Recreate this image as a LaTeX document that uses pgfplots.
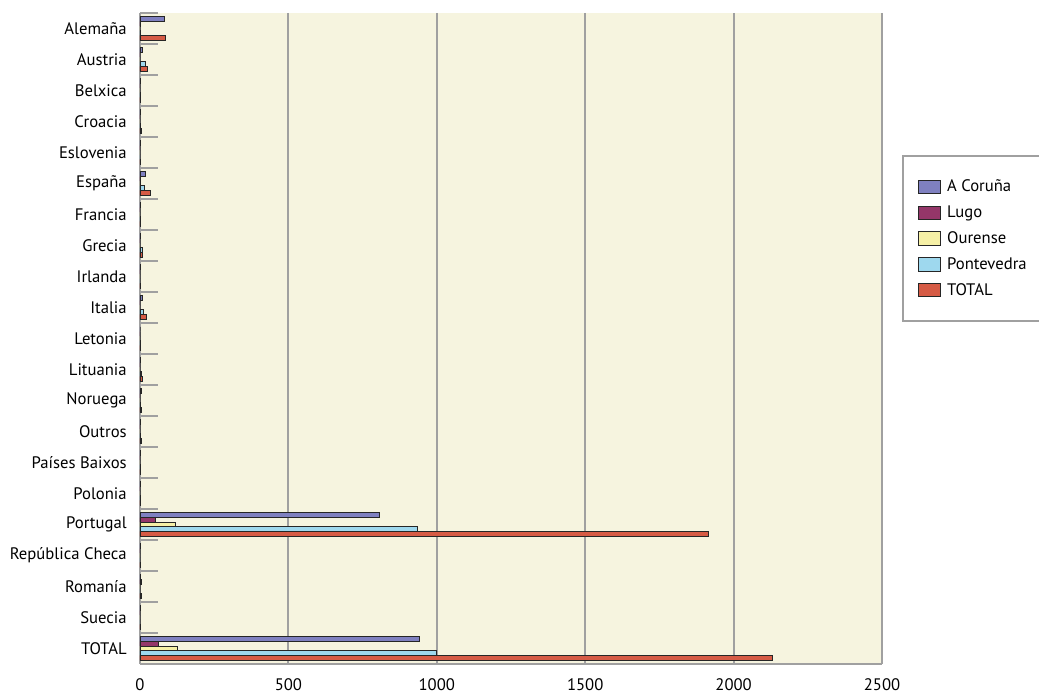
\documentclass[border=0pt]{standalone}
\usepackage{fontspec}
\setmainfont{PT Sans}
\usepackage{pgfplots}
\usepackage{pgfplotstable}
\pgfplotsset{compat=1.18}
\usetikzlibrary{calc}
\definecolor{bg}{HTML}{F6F4DF}
\definecolor{cA}{HTML}{7F80C0}
\definecolor{cL}{HTML}{943669}
\definecolor{cO}{HTML}{F6F0A6}
\definecolor{cP}{HTML}{9ED8EE}
\definecolor{cT}{HTML}{D65B45}
\definecolor{gr}{HTML}{A0A0A0}
\pgfplotstableread{
y A L O P T
0 82 1 0 3 86
1 8 0 0 17 25
2 1 0 0 1 2
3 2 0 0 2 4
4 1 0 0 0 1
5 19 1 1 15 36
6 1 0 0 1 2
7 1 0 0 7 8
8 1 0 0 0 1
9 9 0 0 12 21
10 0 0 0 1 1
11 1 0 0 6 8
12 5 0 0 1 6
13 2 0 0 2 4
14 1 0 0 1 2
15 1 0 0 1 2
16 807 52 120 936 1915
17 1 0 0 0 1
18 1 4 0 0 5
19 1 0 0 0 1
20 943 62 127 999 2131
}\data
\begin{document}
\begin{tikzpicture}
\begin{axis}[
  scale only axis,
  width=556.5pt, height=488.25pt,
  xmin=0, xmax=2500,
  ymin=-0.5, ymax=20.5,
  y dir=reverse,
  axis background/.style={fill=bg},
  axis x line*=bottom, axis y line*=left,
  axis line style={draw=gr, line width=1.5pt, -},
  xtick={0,500,...,2500},
  xmajorgrids,
  major grid style={draw=gr, line width=1.5pt},
  ytick={0,...,20},
  yticklabels={Alemaña,Austria,Belxica,Croacia,Eslovenia,España,Francia,Grecia,Irlanda,Italia,Letonia,Lituania,Noruega,Outros,Países Baixos,Polonia,Portugal,República Checa,Romanía,Suecia,TOTAL},
  minor ytick={-0.5,0.5,...,20.5},
  tick align=inside,
  major tick length=0pt,
  minor tick length=13.5pt,
  minor y tick style={draw=gr, line width=1.5pt},
  major y tick style={draw=none},
  major x tick style={draw=none},
  tick label style={font=\fontsize{12.5}{14}\selectfont},
  /pgf/number format/assume math mode=true,
  /pgf/number format/1000 sep={},
  yticklabel style={inner xsep=0pt, xshift=-9.75pt},
  xticklabel style={inner sep=0pt, yshift=-10.75pt},
  legend style={at={(1,1)}, anchor=north west, xshift=15pt, yshift=-106.5pt,
    draw=gr, line width=1.5pt, fill=white, inner xsep=11pt, inner ysep=16pt,
    font=\fontsize{12.5}{14}\selectfont, row sep=5pt,
    nodes={inner xsep=5pt}},
  legend cell align=left,
  legend image code/.code={\draw[#1, line width=0.6pt] (0pt,-5pt) rectangle (16.5pt,5pt);},
  clip=false,
]
\addplot[xbar, bar width=0.15, bar shift=-0.30, fill=cA, draw=black!85, line width=0.6pt] table[x=A, y=y] {\data};
\addplot[xbar, bar width=0.15, bar shift=-0.15, fill=cL, draw=black!85, line width=0.6pt] table[x=L, y=y] {\data};
\addplot[xbar, bar width=0.15, bar shift=0, fill=cO, draw=black!85, line width=0.6pt] table[x=O, y=y] {\data};
\addplot[xbar, bar width=0.15, bar shift=0.15, fill=cP, draw=black!85, line width=0.6pt] table[x=P, y=y] {\data};
\addplot[xbar, bar width=0.15, bar shift=0.30, fill=cT, draw=black!85, line width=0.6pt] table[x=T, y=y] {\data};
\legend{A Coruña, Lugo, Ourense, Pontevedra, TOTAL}
\end{axis}
\pgfresetboundingbox
\path ($(current axis.south west)+(-105pt,-23.25pt)$) rectangle ($(current axis.north east)+(117.75pt,9.75pt)$);
\end{tikzpicture}
\end{document}
